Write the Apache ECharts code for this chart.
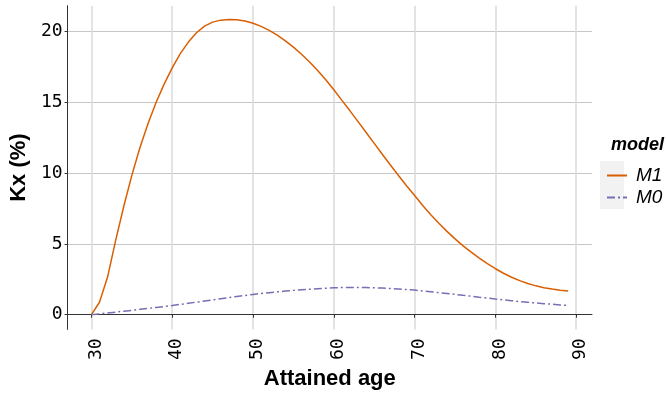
<!DOCTYPE html>
<html>
<head>
<meta charset="utf-8">
<script src="https://cdn.jsdelivr.net/npm/echarts@6/dist/echarts.min.js"></script>
<style>html,body{margin:0;padding:0;background:#fff;}#chart{width:666px;height:395px;}</style>
</head>
<body>
<div id="chart"></div>
<script>
const ages = [30,31,32,33,34,35,36,37,38,39,40,41,42,43,44,45,46,47,48,49,50,51,52,53,54,55,56,57,58,59,60,61,62,63,64,65,66,67,68,69,70,71,72,73,74,75,76,77,78,79,80,81,82,83,84,85,86,87,88,89];
const m1 = [0,0.88,2.66,5.25,7.65,9.85,11.8,13.5,15.0,16.3,17.45,18.45,19.27,19.93,20.4,20.68,20.82,20.87,20.85,20.76,20.6,20.38,20.1,19.76,19.36,18.91,18.41,17.86,17.26,16.61,15.9,15.15,14.41,13.65,12.88,12.11,11.34,10.58,9.84,9.12,8.42,7.72,7.07,6.46,5.89,5.36,4.87,4.42,4.0,3.61,3.25,2.93,2.65,2.41,2.21,2.04,1.91,1.81,1.73,1.67];
const m0 = [0,0.06,0.12,0.18,0.25,0.31,0.38,0.45,0.51,0.58,0.65,0.73,0.81,0.89,0.97,1.05,1.13,1.21,1.29,1.36,1.43,1.5,1.56,1.62,1.67,1.72,1.76,1.8,1.84,1.87,1.9,1.92,1.93,1.93,1.92,1.9,1.88,1.85,1.82,1.78,1.74,1.68,1.62,1.56,1.5,1.44,1.37,1.31,1.24,1.18,1.11,1.05,0.99,0.93,0.88,0.83,0.78,0.74,0.69,0.65];
const xTicks = [30,40,50,60,70,80,90];
const yTicks = [0,5,10,15,20];
const seriesNames = ['M1','M0'];

const chart = echarts.init(document.getElementById('chart'), null, {renderer:'canvas'});
const mono = 'DejaVu Sans Mono';
const sans = 'Liberation Sans';
chart.setOption({
  animation:false,
  backgroundColor:'#ffffff',
  grid:{left:65, right:74, top:5.7, bottom:60, containLabel:false},
  xAxis:{
    type:'value', min:27.05, max:91.95,
    name:'Attained age', nameLocation:'middle', nameGap:34,
    nameTextStyle:{fontFamily:sans, fontWeight:'bold', fontSize:22, color:'#000'},
    axisLine:{show:true, lineStyle:{color:'#333', width:1}},
    axisTick:{show:true, length:3, lineStyle:{color:'#333'}, customValues:xTicks},
    axisLabel:{rotate:90, fontFamily:mono, fontSize:18, color:'#000', margin:9, verticalAlign:'top', lineHeight:9, customValues:xTicks},
    splitLine:{show:true, lineStyle:{color:'#dadada', width:1.5}}
  },
  yAxis:{
    type:'value', min:-1.04, max:21.84,
    name:'Kx (%)', nameLocation:'middle', nameGap:36, nameRotate:90,
    nameTextStyle:{fontFamily:sans, fontWeight:'bold', fontSize:22, color:'#000'},
    axisLine:{show:true, lineStyle:{color:'#333', width:1}},
    axisTick:{show:true, length:3, lineStyle:{color:'#333'}, customValues:yTicks},
    axisLabel:{fontFamily:mono, fontSize:18, color:'#000', margin:5, customValues:yTicks},
    splitLine:{show:true, lineStyle:{color:'#c6c6c6', width:1}}
  },
  legend:{
    orient:'vertical', left:601, top:161, itemGap:3, itemWidth:20, itemHeight:14,
    data:seriesNames,
    itemStyle:{opacity:0},
    textStyle:{fontFamily:sans, fontStyle:'italic', fontSize:19, color:'#000', padding:[0,0,0,4]}
  },
  graphic:[
    {type:'rect', left:600, top:161, shape:{width:24, height:48}, style:{fill:'#f2f2f2'}, z:-1},
    {type:'text', left:611, top:136, style:{text:'model', font:'italic bold 18px "Liberation Sans"', fill:'#000'}}
  ],
  series:[
    {name:'M1', type:'line', data:ages.map((a,i)=>[a,m1[i]]), showSymbol:false, symbol:'none', smooth:false,
     lineStyle:{color:'#D95F02', width:1.5}, itemStyle:{color:'#D95F02'}},
    {name:'M0', type:'line', data:ages.map((a,i)=>[a,m0[i]]), showSymbol:false, symbol:'none', smooth:false,
     lineStyle:{color:'#7570B3', width:1.5, type:[8,3,2,3]}, itemStyle:{color:'#7570B3'}}
  ]
});
</script>
</body>
</html>
